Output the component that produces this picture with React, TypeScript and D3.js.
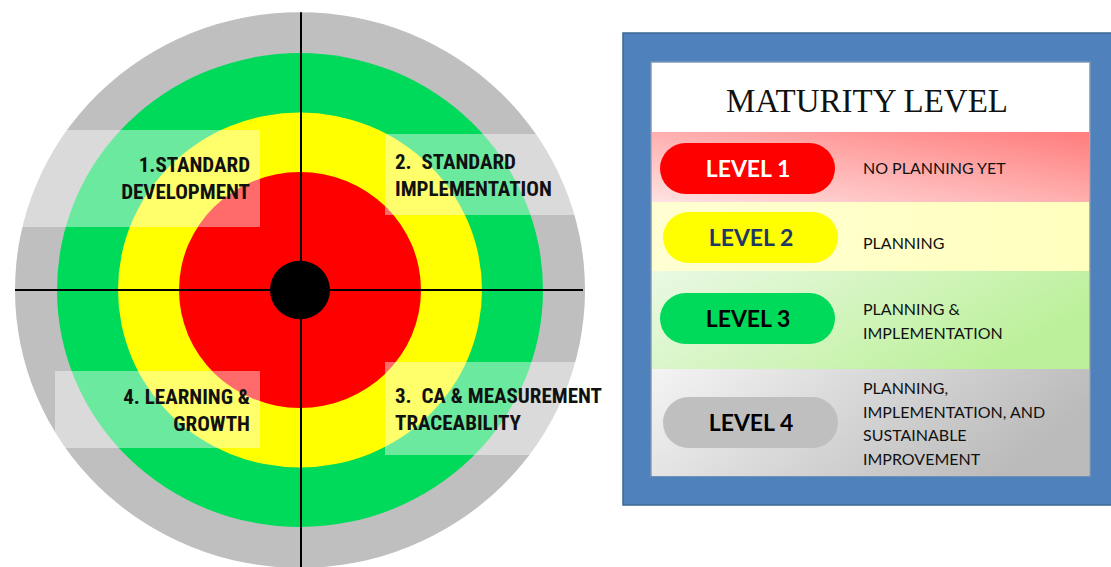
import React from 'react';
import * as d3 from 'd3';

// maturity levels shown in the legend and as target rings (1 = bullseye side)
const levels = ["LEVEL 1", "LEVEL 2", "LEVEL 3", "LEVEL 4"];
const levelDescriptions = [
  ["NO PLANNING YET"],
  ["PLANNING"],
  ["PLANNING &", "IMPLEMENTATION"],
  ["PLANNING,", "IMPLEMENTATION, AND", "SUSTAINABLE", "IMPROVEMENT"],
];
const quadrantLabels = [
  ["1.STANDARD", "DEVELOPMENT"],
  ["2.  STANDARD", "IMPLEMENTATION"],
  ["3.  CA & MEASUREMENT", "TRACEABILITY"],
  ["4. LEARNING &", "GROWTH"],
];
const ringIndex = [4, 3, 2, 1, 0]; // drawn from outside in, 0 = bull

const ringColors = ["#000000", "#FF0000", "#FFFF00", "#00DA5A", "#BFBFBF"];
const pillColors = ["#FF0000", "#FFFF00", "#00DA5A", "#BFBFBF"];
const pillText = ["#FFFFFF", "#1F3864", "#000000", "#000000"];

const W = 1111;
const H = 567;
const cx = 300;
const cy = 290;
const squash = 0.975;

export default function App() {
  const r = d3.scaleLinear().domain([0, 1, 2, 3, 4]).range([30, 121, 182, 243, 285]);

  // legend rows
  const rowEdges = [132, 202, 271, 369, 476];
  const rowY = d3.scaleOrdinal<string, number>().domain(levels).range(rowEdges.slice(0, 4));
  const pillShift = [1.5, 1, -1.5, 0];

  // label boxes per quadrant: [x, y, w, h, anchor x, text-anchor, first baseline]
  const boxes: [number, number, number, number, number, string, number][] = [
    [0, 130, 260, 97, 250, "end", 172],
    [385, 134, 197, 81, 395, "start", 169],
    [385, 362, 230, 93, 395, "start", 403],
    [55, 371, 205, 77, 250, "end", 404],
  ];

  return (
    <svg width={W} height={H} style={{ position: 'absolute', left: 0, top: 0, background: '#fff' }}>
      <defs>
        <linearGradient id="g1" x1="0" y1="1" x2="1" y2="0">
          <stop offset="0" stopColor="#FFE2E2" />
          <stop offset="1" stopColor="#FF7C7C" />
        </linearGradient>
        <linearGradient id="g2" x1="0" y1="0" x2="1" y2="0">
          <stop offset="0" stopColor="#FFFFD2" />
          <stop offset="1" stopColor="#FFFFBE" />
        </linearGradient>
        <linearGradient id="g3" x1="0" y1="0" x2="1" y2="0.4">
          <stop offset="0" stopColor="#EAF9E4" />
          <stop offset="1" stopColor="#BCF09A" />
        </linearGradient>
        <linearGradient id="g4" x1="0" y1="0" x2="1" y2="0.3">
          <stop offset="0" stopColor="#F4F4F4" />
          <stop offset="1" stopColor="#BBBBBB" />
        </linearGradient>
      </defs>

      {/* target */}
      {ringIndex.map(i => (
        <ellipse key={i} cx={cx} cy={cy} rx={r(i)} ry={r(i) * squash} fill={ringColors[i]} />
      ))}
      <line x1={cx + 1} x2={cx + 1} y1={cy - r(4) * squash} y2={H} stroke="#000" strokeWidth={2} />
      <line x1={cx - r(4)} x2={cx + r(4) - 2} y1={cy} y2={cy} stroke="#000" strokeWidth={2} />

      {quadrantLabels.map((lines, q) => {
        const [bx, by, bw, bh, tx, anchor, ty] = boxes[q];
        return (
          <g key={q}>
            <rect x={bx} y={by} width={bw} height={bh} fill="#fff" fillOpacity={0.42} />
            {lines.map((t, j) => (
              <text key={j} x={tx} y={ty + j * 27} textAnchor={anchor}
                style={{ fontFamily: '"Liberation Sans Narrow", "Roboto Condensed", "Liberation Sans", Arial, sans-serif', fontWeight: 700, fontSize: 21, fill: '#111', whiteSpace: 'pre' }}>
                {t}
              </text>
            ))}
          </g>
        );
      })}

      {/* legend panel */}
      <rect x={623} y={33} width={500} height={472} fill="#4F81BD" stroke="#3A6796" strokeWidth={1.5} />
      <rect x={651} y={62} width={439} height={414} fill="#fff" stroke="#7F97B8" strokeWidth={1.5} />
      <text x={867} y={112} textAnchor="middle"
        style={{ fontFamily: '"Liberation Serif", "Times New Roman", serif', fontSize: 33, fill: '#111' }}>
        MATURITY LEVEL
      </text>

      {levels.map((lv, i) => {
        const y0 = rowY(lv);
        const y1 = rowEdges[i + 1];
        const mid = (y0 + y1) / 2;
        const pc = mid + pillShift[i];
        const pillH = 51;
        const px = i % 2 === 0 ? 660 : 663;
        const desc = levelDescriptions[i];
        const lh = 23.5;
        const descStart = i === 1 ? mid + 12 : mid - ((desc.length - 1) * lh) / 2 + 7;
        return (
          <g key={lv}>
            <rect x={652} y={y0} width={437} height={y1 - y0} fill={`url(#g${i + 1})`} />
            <rect x={px} y={pc - pillH / 2} width={175} height={pillH} rx={25.5} fill={pillColors[i]} />
            <text x={px + 88} y={pc + 8.5} textAnchor="middle"
              style={{ fontFamily: 'Lato, "Open Sans", sans-serif', fontWeight: 700, fontSize: 23, fill: pillText[i] }}>
              {lv}
            </text>
            {desc.map((t, j) => (
              <text key={j} x={863} y={descStart + j * lh}
                style={{ fontFamily: 'Lato, "Open Sans", sans-serif', fontSize: 16, fill: '#111' }}>
                {t}
              </text>
            ))}
          </g>
        );
      })}
    </svg>
  );
}
